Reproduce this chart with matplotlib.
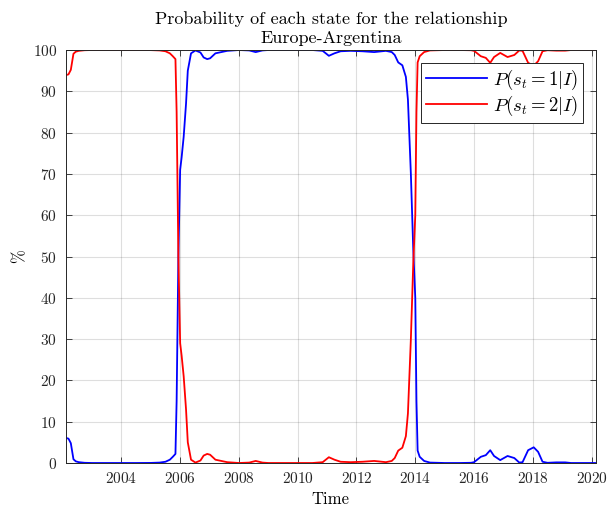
import matplotlib
matplotlib.use("Agg")
import matplotlib.pyplot as plt
from matplotlib.ticker import MultipleLocator

plt.rcParams['font.family'] = 'serif'
plt.rcParams['font.serif'] = ['cmr10', 'DejaVu Serif']
plt.rcParams['mathtext.fontset'] = 'cm'
plt.rcParams['axes.formatter.use_mathtext'] = True

# time (decimal years)
time = [2002.10, 2002.20, 2002.28, 2002.37, 2002.45, 2002.55, 2002.75, 2003.0, 2003.5,
        2004.0, 2004.5, 2005.0, 2005.3, 2005.5, 2005.65, 2005.75, 2005.84, 2005.88,
        2005.94, 2006.0, 2006.05, 2006.12, 2006.2, 2006.26, 2006.37, 2006.52, 2006.69,
        2006.8, 2006.92, 2007.02, 2007.2, 2007.6, 2008.0, 2008.35, 2008.57, 2008.8,
        2009.0, 2009.5, 2010.0, 2010.5, 2010.85, 2011.06, 2011.25, 2011.46, 2011.8,
        2012.2, 2012.6, 2013.0, 2013.2, 2013.3, 2013.42, 2013.56, 2013.68, 2013.75,
        2013.85, 2013.93, 2014.0, 2014.04, 2014.08, 2014.15, 2014.3, 2014.5, 2015.0,
        2015.5, 2015.9, 2016.0, 2016.23, 2016.4, 2016.55, 2016.68, 2016.89, 2017.14,
        2017.37, 2017.54, 2017.65, 2017.84, 2018.03, 2018.18, 2018.33, 2018.5, 2018.8,
        2019.1, 2019.3, 2020.15]

# P(s_t = 1 | I), percent
p_state1 = [6.1, 5.9, 4.8, 0.9, 0.4, 0.2, 0.05, 0.0, 0.0,
            0.0, 0.0, 0.02, 0.1, 0.3, 0.8, 1.5, 2.2, 15.0,
            50.0, 71.0, 74.0, 79.0, 87.0, 95.0, 99.2, 99.9, 99.4,
            98.2, 97.8, 98.0, 99.2, 99.8, 100.0, 99.9, 99.5, 99.9,
            100.0, 100.0, 100.0, 100.0, 99.8, 98.6, 99.2, 99.7, 99.8,
            99.7, 99.5, 99.8, 99.5, 98.8, 97.0, 96.3, 93.5, 88.0,
            70.0, 52.0, 40.0, 15.0, 3.0, 1.5, 0.5, 0.1, 0.0,
            0.0, 0.05, 0.2, 1.5, 1.9, 3.1, 1.7, 0.7, 1.7,
            1.2, 0.1, 0.2, 3.1, 3.8, 2.7, 0.3, 0.05, 0.15,
            0.15, 0.0, 0.0]

# P(s_t = 2 | I), percent
p_state2 = [93.9, 94.1, 95.2, 99.1, 99.6, 99.8, 99.95, 100.0, 100.0,
            100.0, 100.0, 99.98, 99.9, 99.7, 99.2, 98.5, 97.8, 85.0,
            50.0, 29.0, 26.0, 21.0, 13.0, 5.0, 0.8, 0.1, 0.6,
            1.8, 2.2, 2.0, 0.8, 0.2, 0.0, 0.1, 0.5, 0.1,
            0.0, 0.0, 0.0, 0.0, 0.2, 1.4, 0.8, 0.3, 0.2,
            0.3, 0.5, 0.2, 0.5, 1.2, 3.0, 3.7, 6.5, 12.0,
            30.0, 48.0, 60.0, 85.0, 97.0, 98.5, 99.5, 99.9, 100.0,
            100.0, 99.95, 99.8, 98.5, 98.1, 96.9, 98.3, 99.3, 98.3,
            98.8, 99.9, 99.8, 96.9, 96.2, 97.3, 99.7, 99.95, 99.85,
            99.85, 100.0, 100.0]

labels = [r'$P(s_t=1|I)$', r'$P(s_t=2|I)$']
xticks = [2004, 2006, 2008, 2010, 2012, 2014, 2016, 2018, 2020]

fig = plt.figure(figsize=(6.09, 5.12), dpi=100)
ax = fig.add_axes([0.1076, 0.0957, 0.8711, 0.8066])

ax.plot(time, p_state1, color=(0, 0, 1), lw=1.3, label=labels[0])
ax.plot(time, p_state2, color=(1, 0, 0), lw=1.3, label=labels[1])

ax.set_xlim(2002.10, 2020.15)
ax.set_ylim(0, 100)
ax.set_xticks(xticks)
ax.yaxis.set_major_locator(MultipleLocator(10))
ax.grid(True, color=(0.15, 0.15, 0.15), alpha=0.15, lw=0.8)
ax.set_axisbelow(True)
ax.tick_params(direction='in', length=4, width=0.6, top=True, right=True,
               labelsize=11, colors=(0.15, 0.15, 0.15), pad=6)
for s in ax.spines.values():
    s.set_color((0.15, 0.15, 0.15))
    s.set_linewidth(0.7)

ax.set_xlabel('Time', fontsize=12, labelpad=4)
ax.set_ylabel('%', fontsize=12, labelpad=4)
ax.set_title('Probability of each state for the relationship\nEurope-Argentina',
             fontsize=13, linespacing=1.3, pad=5)

leg = ax.legend(loc='upper right', bbox_to_anchor=(0.9755, 0.9685), borderaxespad=0,
                fontsize=13.5, frameon=True, fancybox=False, handlelength=3.3,
                handletextpad=0.3, borderpad=0.25, labelspacing=0.1)
leg.get_frame().set_edgecolor((0.15, 0.15, 0.15))
leg.get_frame().set_linewidth(0.7)
leg.get_frame().set_alpha(1)

fig.savefig('out.png', dpi=100)
